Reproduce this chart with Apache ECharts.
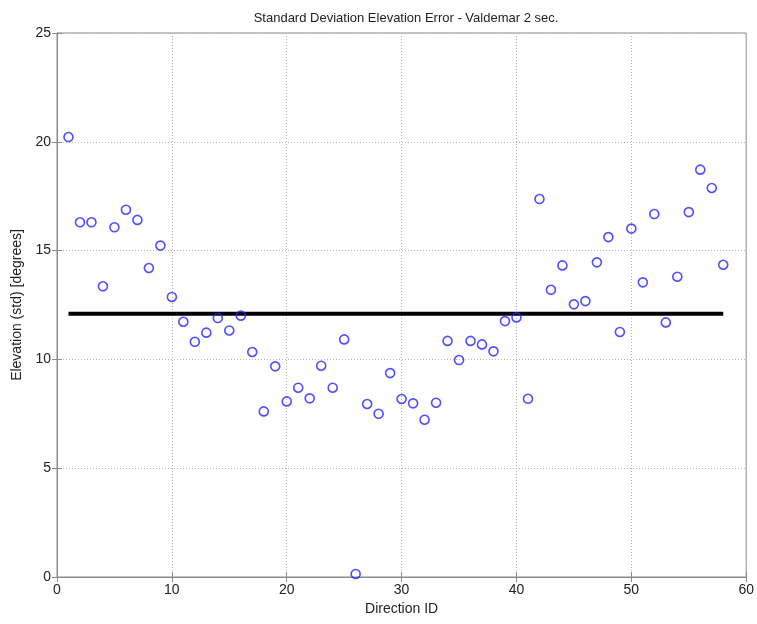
<!DOCTYPE html>
<html>
<head>
    <meta charset="UTF-8">
    <title>Standard Deviation Elevation Error</title>
    <script src="https://cdn.jsdelivr.net/npm/echarts/dist/echarts.min.js"></script>
    <style>
        html, body { margin: 0; padding: 0; background: #fff; }
        #main { width: 757px; height: 624px; }
    </style>
</head>
<body>
    <div id="main"></div>
    <script type="text/javascript">
        // direction ids 1..58 and the std of elevation error
        const directionIds = [
            1, 2, 3, 4, 5, 6, 7, 8, 9, 10,
            11, 12, 13, 14, 15, 16, 17, 18, 19, 20,
            21, 22, 23, 24, 25, 26, 27, 28, 29, 30,
            31, 32, 33, 34, 35, 36, 37, 38, 39, 40,
            41, 42, 43, 44, 45, 46, 47, 48, 49, 50,
            51, 52, 53, 54, 55, 56, 57, 58
        ];
        const stdValues = [
            20.22, 16.30, 16.30, 13.36, 16.07, 16.88, 16.41, 14.20, 15.23, 12.87,
            11.73, 10.81, 11.23, 11.90, 11.33, 12.01, 10.34, 7.61, 9.68, 8.07,
            8.70, 8.21, 9.71, 8.70, 10.92, 0.14, 7.95, 7.50, 9.37, 8.18,
            7.98, 7.23, 8.01, 10.85, 9.97, 10.85, 10.69, 10.37, 11.76, 11.93,
            8.19, 17.37, 13.20, 14.32, 12.53, 12.68, 14.46, 15.62, 11.26, 16.01,
            13.54, 16.68, 11.70, 13.80, 16.77, 18.72, 17.88, 14.35
        ];
        // mean line drawn from first to last direction
        const meanValue = 12.1;
        const meanRange = [1, 58];

        const xTicks = [0, 10, 20, 30, 40, 50, 60];
        const yTicks = [0, 5, 10, 15, 20, 25];

        let chart = echarts.init(document.getElementById('main'));

        const font = 'Liberation Sans, Arial, sans-serif';
        const axisGray = '#8a8a8a';
        const gridLine = { show: true, lineStyle: { color: '#b4b4b4', type: [1, 2], width: 1 } };

        let option = {
            animation: false,
            backgroundColor: '#ffffff',
            title: {
                text: 'Standard Deviation Elevation Error - Valdemar 2 sec.',
                left: 401,
                top: 7,
                textAlign: 'center',
                textStyle: { fontFamily: font, fontSize: 13, fontWeight: 'normal', color: '#222' }
            },
            grid: {
                left: 57,
                right: 10,
                top: 33,
                bottom: 47,
                show: true,
                borderColor: axisGray,
                borderWidth: 1,
                backgroundColor: '#fff'
            },
            xAxis: [{
                type: 'value',
                min: xTicks[0],
                max: xTicks[xTicks.length - 1],
                interval: 10,
                name: 'Direction ID',
                nameLocation: 'middle',
                nameGap: 24,
                nameTextStyle: { fontFamily: font, fontSize: 14, color: '#222' },
                axisLine: { show: true, lineStyle: { color: axisGray } },
                axisTick: { show: true, inside: true, length: 5, lineStyle: { color: axisGray } },
                axisLabel: { fontFamily: font, fontSize: 14, color: '#222', margin: 6 },
                splitLine: gridLine
            }, {
                type: 'value',
                position: 'top',
                min: xTicks[0],
                max: xTicks[xTicks.length - 1],
                interval: 10,
                axisLine: { show: true, lineStyle: { color: axisGray } },
                axisTick: { show: true, inside: true, length: 5, lineStyle: { color: axisGray } },
                axisLabel: { show: false },
                splitLine: { show: false }
            }],
            yAxis: [{
                type: 'value',
                min: yTicks[0],
                max: yTicks[yTicks.length - 1],
                interval: 5,
                name: 'Elevation (std) [degrees]',
                nameLocation: 'middle',
                nameGap: 27,
                nameTextStyle: { fontFamily: font, fontSize: 14, color: '#222' },
                axisLine: { show: true, lineStyle: { color: axisGray } },
                axisTick: { show: true, inside: true, length: 5, lineStyle: { color: axisGray } },
                axisLabel: { fontFamily: font, fontSize: 14, color: '#222', margin: 6 },
                splitLine: gridLine
            }, {
                type: 'value',
                position: 'right',
                min: yTicks[0],
                max: yTicks[yTicks.length - 1],
                interval: 5,
                axisLine: { show: true, lineStyle: { color: axisGray } },
                axisTick: { show: true, inside: true, length: 5, lineStyle: { color: axisGray } },
                axisLabel: { show: false },
                splitLine: { show: false }
            }],
            series: [{
                type: 'line',
                data: meanRange.map(x => [x, meanValue]),
                showSymbol: false,
                symbol: 'none',
                lineStyle: { color: '#000', width: 4 },
                z: 2
            }, {
                type: 'scatter',
                data: directionIds.map((id, i) => [id, stdValues[i]]),
                symbol: 'circle',
                symbolSize: 9,
                itemStyle: { color: 'rgba(0,0,0,0)', borderColor: '#2323ff', borderWidth: 1.6 },
                z: 3
            }]
        };

        chart.setOption(option);
    </script>
</body>
</html>
